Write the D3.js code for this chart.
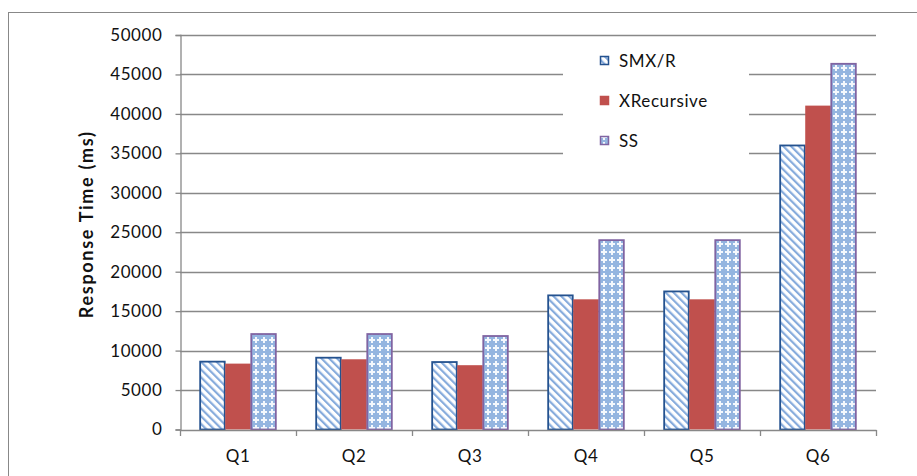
<!DOCTYPE html>
<html>
<head>
<meta charset="utf-8">
<script src="https://cdn.jsdelivr.net/npm/d3@7"></script>
<style>
  body { margin: 0; background: #fff; }
  text { font-family: Lato, "Open Sans", sans-serif; fill: #111; }
</style>
</head>
<body>
<svg id="chart" width="917" height="476"></svg>
<script>
// data
const categories = ["Q1", "Q2", "Q3", "Q4", "Q5", "Q6"];
const seriesNames = ["SMX/R", "XRecursive", "SS"];
const smxValues = [8600, 9100, 8550, 17000, 17500, 36000];
const xrecValues = [8350, 8900, 8150, 16500, 16500, 41050];
const ssValues = [12100, 12100, 11850, 24000, 24000, 46350];
const yTicks = [0, 5000, 10000, 15000, 20000, 25000, 30000, 35000, 40000, 45000, 50000];

const seriesValues = [smxValues, xrecValues, ssValues];
const gridColor = "#888888";

const svg = d3.select("#chart");
const width = 917, height = 476;
const margin = { top: 35, right: 41, bottom: 46.5, left: 180 };

// outer chart border
svg.append("rect")
    .attr("x", 8.5).attr("y", 12.5)
    .attr("width", width + 10).attr("height", height + 10)
    .attr("fill", "none")
    .attr("stroke", gridColor)
    .attr("stroke-width", 1);

// patterns for the hatched series
const defs = svg.append("defs");
const diag = defs.append("pattern")
    .attr("id", "diag")
    .attr("patternUnits", "userSpaceOnUse")
    .attr("width", 5.5).attr("height", 5.5)
    .attr("patternTransform", "rotate(-45)");
diag.append("rect").attr("width", 5.5).attr("height", 5.5).attr("fill", "#ffffff");
diag.append("rect").attr("x", 0).attr("width", 2.2).attr("height", 5.5).attr("fill", "#86abdc");

const cross = defs.append("pattern")
    .attr("id", "cross")
    .attr("patternUnits", "userSpaceOnUse")
    .attr("width", 8).attr("height", 8);
cross.append("rect").attr("width", 8).attr("height", 8).attr("fill", "#94b5e0");
cross.append("rect").attr("x", 3).attr("y", 1).attr("width", 2).attr("height", 6).attr("fill", "#f4f8fd");
cross.append("rect").attr("x", 1).attr("y", 3).attr("width", 6).attr("height", 2).attr("fill", "#f4f8fd");

const fills = ["url(#diag)", "#c0504d", "url(#cross)"];
const strokes = ["#24528f", "#c0504d", "#8064a2"];

const x0 = d3.scaleBand()
    .domain(categories)
    .range([margin.left, width - margin.right])
    .paddingInner(0).paddingOuter(0);
const x1 = d3.scaleBand()
    .domain(seriesNames)
    .range([0, x0.bandwidth()])
    .paddingInner(0)
    .paddingOuter(0.77);
const y = d3.scaleLinear()
    .domain([0, 50000])
    .range([height - margin.bottom, margin.top]);

// gridlines
svg.append("g")
    .selectAll("line")
    .data(yTicks.filter(d => d > 0))
    .join("line")
    .attr("x1", margin.left).attr("x2", width - margin.right)
    .attr("y1", d => Math.round(y(d)) + 0.5)
    .attr("y2", d => Math.round(y(d)) + 0.5)
    .attr("stroke", gridColor)
    .attr("stroke-width", 1.3);

// bars
const groups = svg.append("g")
    .selectAll("g")
    .data(categories)
    .join("g")
    .attr("transform", d => `translate(${x0(d)},0)`);

groups.selectAll("rect")
    .data((c, i) => seriesNames.map((s, k) => ({ s, k, v: seriesValues[k][i] })))
    .join("rect")
    .attr("x", d => x1(d.s) + (d.k === 1 ? 0 : 0.5))
    .attr("width", d => x1.bandwidth() - (d.k === 1 ? 0 : 1))
    .attr("y", d => y(d.v))
    .attr("height", d => y(0) - y(d.v))
    .attr("fill", d => fills[d.k])
    .attr("stroke", d => d.k === 1 ? "none" : strokes[d.k])
    .attr("stroke-width", 1.8);

// y axis
const yAxis = d3.axisLeft(y)
    .tickValues(yTicks)
    .tickSize(5)
    .tickPadding(13)
    .tickFormat(d3.format("d"));
const gy = svg.append("g")
    .attr("transform", `translate(${margin.left + 0.5},0)`)
    .call(yAxis);
gy.selectAll("path, line").attr("stroke", gridColor).attr("stroke-width", 1.3);
gy.selectAll("text")
    .attr("font-size", 17)
    .attr("letter-spacing", 0.6)
    .attr("fill", "#111")
    .style("font-family", "Lato, sans-serif");

// x axis
const xAxis = d3.axisBottom(x0).tickSize(0).tickPadding(20);
const gx = svg.append("g")
    .attr("transform", `translate(0,${y(0) + 0.5})`)
    .call(xAxis);
gx.select("path").attr("stroke", gridColor).attr("stroke-width", 1.3);
gx.selectAll("text")
    .attr("font-size", 17)
    .attr("letter-spacing", 0.6)
    .attr("fill", "#111")
    .style("font-family", "Lato, sans-serif");
// category boundary ticks
gx.append("g")
    .selectAll("line")
    .data(categories.map(c => x0(c)).concat([x0.range()[1]]))
    .join("line")
    .attr("x1", d => Math.round(d) + 0.5).attr("x2", d => Math.round(d) + 0.5)
    .attr("y1", 0).attr("y2", 6)
    .attr("stroke", gridColor).attr("stroke-width", 1.3);

// y axis title
svg.append("text")
    .attr("transform", `translate(93,${(y(0) + y(50000)) / 2 - 8}) rotate(-90)`)
    .attr("text-anchor", "middle")
    .attr("font-size", 18)
    .attr("font-weight", "bold")
    .attr("letter-spacing", 1.7)
    .text("Response Time (ms)");

// legend
const legend = svg.append("g");
legend.append("rect")
    .attr("x", 563).attr("y", 42)
    .attr("width", 186).attr("height", 126)
    .attr("fill", "#fff");
const items = legend.selectAll("g.item")
    .data(seriesNames)
    .join("g")
    .attr("class", "item")
    .attr("transform", (d, i) => `translate(600,${61 + i * 40})`);
items.append("rect")
    .attr("x", 0.5).attr("y", -4.5)
    .attr("width", 8).attr("height", 8)
    .attr("fill", (d, i) => fills[i])
    .attr("stroke", (d, i) => strokes[i])
    .attr("stroke-width", 1.5);
items.append("text")
    .attr("x", 19).attr("y", 0)
    .attr("dy", "0.35em")
    .attr("font-size", 17)
    .attr("letter-spacing", 0.6)
    .text(d => d);
</script>
</body>
</html>
